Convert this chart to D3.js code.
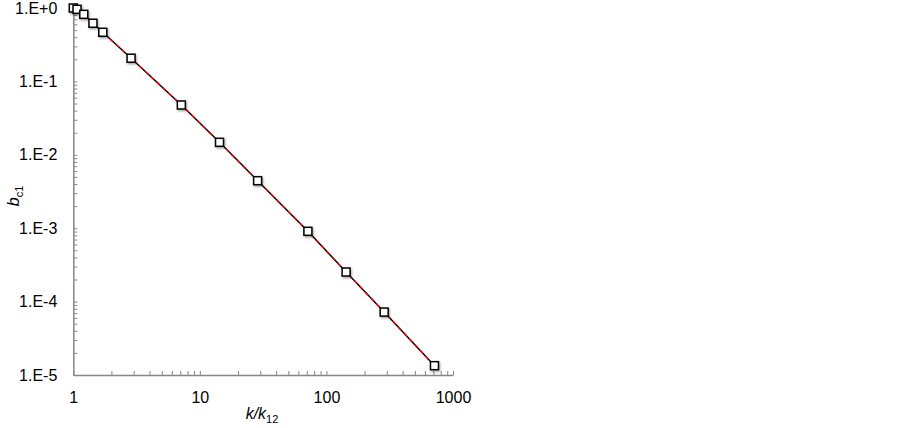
<!DOCTYPE html>
<html>
<head>
<meta charset="utf-8">
<script src="https://cdn.jsdelivr.net/npm/d3@7"></script>
<style>
  body { margin: 0; background: #fff; }
  text { font-family: "Liberation Sans", Arial, sans-serif; fill: #000; }
</style>
</head>
<body>
<svg id="chart"></svg>
<script>
// data
const kRatio = [1, 1.07, 1.21, 1.43, 1.71, 2.86, 7.14, 14.3, 28.6, 71.4, 143, 286, 714];
const bc1 = [1.0, 0.96, 0.82, 0.62, 0.467, 0.207, 0.0477, 0.0148, 0.00444, 0.000907, 0.000253, 7.2e-5, 1.34e-5];
const xTickLabels = [1, 10, 100, 1000];
const yTickValues = [1, 1e-1, 1e-2, 1e-3, 1e-4, 1e-5];
const yTickLabels = ["1.E+0", "1.E-1", "1.E-2", "1.E-3", "1.E-4", "1.E-5"];

const width = 903, height = 428;
const svg = d3.select('#chart').attr('width', width).attr('height', height);

const x = d3.scaleLog().domain([1, 1000]).range([73.3, 453]);
const y = d3.scaleLog().domain([1e-5, 1]).range([375, 8]);

const defs = svg.append('defs');
const f = defs.append('filter').attr('id', 'shadow').attr('x', '-50%').attr('y', '-50%').attr('width', '200%').attr('height', '200%');
f.append('feDropShadow').attr('dx', 1).attr('dy', 1.5).attr('stdDeviation', 1)
  .attr('flood-color', '#000').attr('flood-opacity', 0.35);

// minor ticks for each decade
function logTicks(lo, hi) {
  const out = [];
  for (let e = lo; e < hi; e++) {
    for (let m = 1; m < 10; m++) out.push(m * Math.pow(10, e));
  }
  out.push(Math.pow(10, hi));
  return out;
}

const xAxis = d3.axisBottom(x)
  .tickValues(logTicks(0, 3))
  .tickSizeInner(-4).tickSizeOuter(0).tickPadding(17)
  .tickFormat(d => xTickLabels.includes(Math.round(d)) && Math.abs(Math.log10(d) % 1) < 1e-9 ? d3.format('d')(d) : '');

const yAxis = d3.axisLeft(y)
  .tickValues(logTicks(-5, 0))
  .tickSizeInner(-4).tickSizeOuter(0).tickPadding(16)
  .tickFormat(d => {
    const i = yTickValues.findIndex(v => Math.abs(v - d) / v < 1e-6);
    return i >= 0 ? yTickLabels[i] : '';
  });

const gx = svg.append('g').attr('transform', `translate(0,${y(1e-5)})`).call(xAxis);
const gy = svg.append('g').attr('transform', `translate(${x(1)},0)`).call(yAxis);

[gx, gy].forEach(g => {
  g.select('.domain').attr('stroke', '#878787').attr('stroke-width', 1.5);
  g.selectAll('.tick line').attr('stroke', '#878787').attr('stroke-width', 1);
  g.selectAll('.tick text').style('font-size', '16px').attr('fill', '#000');
});

const pts = kRatio.map((k, i) => [k, bc1[i]]);
const line = d3.line().x(d => x(d[0])).y(d => y(d[1]));

svg.append('path').datum(pts).attr('d', line)
  .attr('fill', 'none').attr('stroke', '#000').attr('stroke-width', 1.5);
svg.append('path').datum(pts).attr('d', line)
  .attr('fill', 'none').attr('stroke', '#ff0000').attr('stroke-width', 1.5)
  .attr('stroke-dasharray', '4,4');

const s = 8;
svg.append('g').selectAll('rect').data(pts).enter().append('rect')
  .attr('x', d => x(d[0]) - s / 2)
  .attr('y', d => y(d[1]) - s / 2)
  .attr('width', s).attr('height', s)
  .attr('fill', '#fff').attr('stroke', '#000').attr('stroke-width', 1.5)
  .attr('filter', 'url(#shadow)');

// axis titles
const xt = svg.append('text').attr('x', 262).attr('y', 419)
  .attr('text-anchor', 'middle').style('font-size', '16px');
xt.append('tspan').style('font-style', 'italic').text('k/k');
xt.append('tspan').attr('dy', 4).style('font-size', '11px').text('12');

const yt = svg.append('text').attr('transform', 'translate(19,196) rotate(-90)')
  .attr('text-anchor', 'middle').style('font-size', '16px');
yt.append('tspan').style('font-style', 'italic').text('b');
yt.append('tspan').attr('dy', 4).style('font-size', '11px').text('c1');
</script>
</body>
</html>
